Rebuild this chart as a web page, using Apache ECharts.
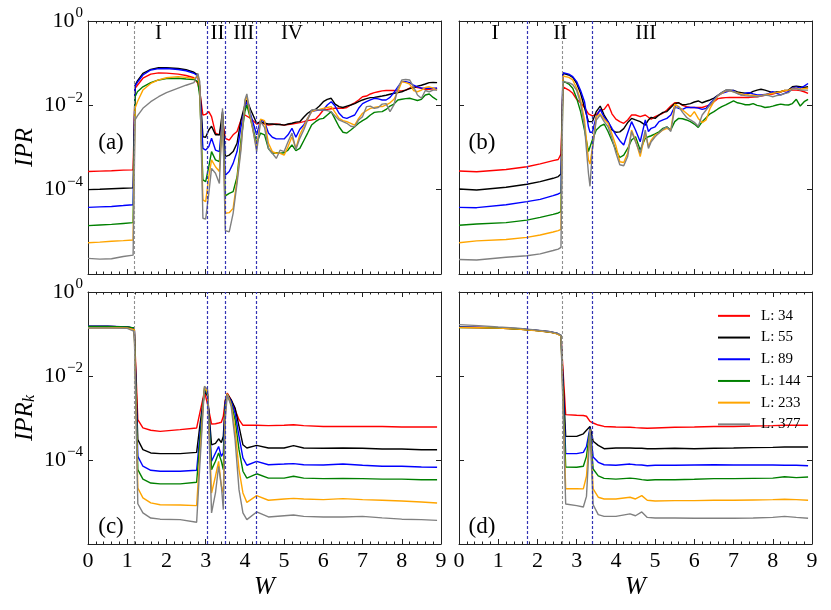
<!DOCTYPE html>
<html><head><meta charset="utf-8">
<script src="https://cdn.jsdelivr.net/npm/echarts/dist/echarts.min.js"></script>
<style>html,body{margin:0;padding:0;background:#fff}#c{width:831px;height:610px}</style>
</head><body><div id="c"></div>
<script>
// ---------- DATA ----------
const SIZES = ['L: 34','L: 55','L: 89','L: 144','L: 233','L: 377'];

// Panel (a): IPR, x-axis W
const W_A = [0,0.3,0.6,0.9,1.15,1.2,1.26,1.4,1.6,1.8,2.0,2.3,2.5,2.7,2.8,2.85,2.93,3.0,3.08,3.15,3.25,3.35,3.43,3.5,3.6,3.7,3.8,3.9,4.0,4.05,4.15,4.3,4.4,4.5,4.6,4.7,4.8,4.9,5.0,5.1,5.2,5.3,5.4,5.5,5.6,5.7,5.8,5.9,6.0,6.1,6.2,6.3,6.4,6.5,6.6,6.7,6.8,6.9,7.0,7.1,7.2,7.3,7.4,7.5,7.6,7.7,7.8,7.9,8.0,8.1,8.2,8.3,8.4,8.5,8.6,8.7,8.8,8.9];
const A_34 = [2.7e-4,2.75e-4,2.8e-4,2.9e-4,2.95e-4,
 2.55e-2,3.0e-2,4.4e-2,5.5e-2,5.9e-2,5.8e-2,5.5e-2,5.1e-2,4.5e-2,3.3e-2,2.1e-2,
 5.9e-3,6.1e-3,7.1e-3,5.4e-3,2.2e-3,2.0e-3,4.5e-3,1.65e-3,1.5e-3,2.0e-3,2.4e-3,4.5e-3,5.9e-3,6.5e-3,4.9e-3,3.6e-3,
 3.9e-3,3.6e-3,3.4e-3,3.5e-3,3.6e-3,3.5e-3,3.4e-3,3.5e-3,3.6e-3,3.75e-3,
 3.9e-3,4.1e-3,4.35e-3,4.5e-3,4.7e-3,5.9e-3,7.75e-3,8.0e-3,8.3e-3,8.5e-3,
 8.5e-3,8.5e-3,8.9e-3,1.02e-2,1.15e-2,1.34e-2,1.6e-2,1.66e-2,1.86e-2,2.0e-2,
 2.1e-2,2.2e-2,2.25e-2,2.25e-2,2.25e-2,2.2e-2,2.2e-2,2.3e-2,2.55e-2,2.75e-2,
 2.65e-2,2.55e-2,2.4e-2,2.4e-2,2.45e-2,2.55e-2];
const A_55 = [1.0e-4,1.02e-4,1.05e-4,1.08e-4,1.1e-4,
 3.0e-2,3.8e-2,5.75e-2,7.1e-2,7.8e-2,7.8e-2,7.5e-2,7.0e-2,6.1e-2,5.25e-2,2.75e-2,
 1.8e-3,1.75e-3,2.6e-3,3.2e-3,2.0e-3,2.0e-3,7.1e-3,6.1e-4,6.6e-4,8.0e-4,1.26e-3,4.5e-3,1.02e-2,1.34e-2,7.75e-3,3.75e-3,
 4.1e-3,3.75e-3,3.6e-3,3.6e-3,3.5e-3,3.5e-3,3.4e-3,3.6e-3,3.75e-3,4.0e-3,
 4.1e-3,5.2e-3,6.5e-3,7.5e-3,8.0e-3,9.6e-3,1.22e-2,1.39e-2,1.47e-2,1.07e-2,
 9.3e-3,8.9e-3,9.6e-3,1.02e-2,1.1e-2,1.22e-2,1.34e-2,1.44e-2,1.52e-2,1.54e-2,
 1.6e-2,1.66e-2,1.73e-2,1.83e-2,1.93e-2,2.0e-2,2.1e-2,2.3e-2,2.5e-2,2.6e-2,
 2.85e-2,3.0e-2,3.2e-2,3.45e-2,3.5e-2,3.45e-2];
const A_89 = [3.8e-5,3.9e-5,4.0e-5,4.2e-5,4.4e-5,
 2.85e-2,3.5e-2,5.25e-2,6.9e-2,7.4e-2,7.5e-2,7.1e-2,6.6e-2,5.75e-2,4.95e-2,2.3e-2,
 9.5e-4,8.7e-4,1.05e-3,1.65e-3,8.7e-4,8.0e-4,5.4e-3,2.2e-4,2.7e-4,4.2e-4,8.0e-4,3.1e-3,8.9e-3,1.22e-2,5.9e-3,2.0e-3,
 4.5e-3,4.1e-3,2.2e-3,1.75e-3,1.6e-3,1.6e-3,1.6e-3,2.0e-3,2.85e-3,1.75e-3,
 2.7e-3,3.4e-3,4.9e-3,7.1e-3,7.5e-3,7.75e-3,7.75e-3,1.02e-2,1.22e-2,9.6e-3,
 6.5e-3,5.2e-3,4.9e-3,5.4e-3,5.9e-3,8.5e-3,1.1e-2,1.22e-2,1.34e-2,1.47e-2,
 1.42e-2,1.34e-2,1.34e-2,1.54e-2,2.0e-2,2.75e-2,3.65e-2,3.65e-2,3.45e-2,3.0e-2,
 2.75e-2,2.55e-2,2.55e-2,2.55e-2,2.55e-2,2.55e-2];
const A_144 = [1.4e-5,1.45e-5,1.5e-5,1.58e-5,1.65e-5,
 1.6e-2,2.1e-2,2.75e-2,3.45e-2,4.0e-2,4.3e-2,4.4e-2,4.2e-2,4.1e-2,3.65e-2,1.6e-2,
 1.7e-4,1.55e-4,3.5e-4,8.0e-4,5.1e-4,4.6e-4,5.4e-3,7.1e-5,8.2e-5,9.0e-5,2.0e-4,1.5e-3,7.1e-3,1.02e-2,4.5e-3,1.26e-3,
 2.2e-3,2.0e-3,9.5e-4,7.3e-4,7.5e-4,7.3e-4,7.5e-4,8.7e-4,1.15e-3,8.4e-4,
 9.5e-4,1.45e-3,2.2e-3,3.4e-3,4.1e-3,4.7e-3,4.9e-3,5.9e-3,7.1e-3,4.7e-3,
 3.1e-3,2.3e-3,2.2e-3,2.6e-3,3.1e-3,3.75e-3,4.35e-3,4.9e-3,5.9e-3,6.8e-3,
 7.0e-3,7.1e-3,8.0e-3,9.6e-3,1.07e-2,1.34e-2,1.39e-2,1.44e-2,1.47e-2,1.39e-2,
 1.3e-2,1.39e-2,1.76e-2,1.86e-2,1.54e-2,1.34e-2];
const A_233 = [5.5e-6,5.7e-6,6.0e-6,6.2e-6,6.4e-6,
 8.5e-3,1.22e-2,2.3e-2,3.3e-2,4.0e-2,4.5e-2,4.8e-2,4.6e-2,4.3e-2,4.8e-2,2.75e-2,
 5.7e-5,5.2e-5,2.0e-4,5.1e-4,3.5e-4,2.7e-4,5.9e-3,2.75e-5,2.85e-5,3.6e-5,1.7e-4,1.05e-3,1.22e-2,1.66e-2,4.5e-3,9.5e-4,
 4.7e-3,4.35e-3,1.26e-3,8.0e-4,7.3e-4,7.3e-4,6.6e-4,1.05e-3,1.8e-3,9.5e-4,
 2.0e-3,3.1e-3,4.9e-3,7.1e-3,7.75e-3,8.0e-3,8.5e-3,8.9e-3,9.3e-3,6.8e-3,
 4.9e-3,4.35e-3,4.1e-3,3.75e-3,3.4e-3,4.9e-3,6.5e-3,7.5e-3,8.5e-3,8.9e-3,
 9.3e-3,9.3e-3,1.02e-2,1.15e-2,1.39e-2,2.1e-2,3.65e-2,3.45e-2,3.2e-2,2.25e-2,
 2.1e-2,2.3e-2,2.65e-2,2.75e-2,2.55e-2,2.3e-2];
const A_377 = [2.35e-6,2.25e-6,2.3e-6,2.6e-6,2.8e-6,
 4.5e-3,5.6e-3,8.5e-3,1.22e-2,1.6e-2,2.0e-2,2.55e-2,3.0e-2,3.45e-2,5.75e-2,3.65e-2,
 2.1e-5,2.0e-5,8.2e-5,3.2e-4,2.45e-4,1.4e-4,8.5e-3,1.07e-5,1.0e-5,2.75e-5,1.4e-4,8.7e-4,1.34e-2,1.86e-2,5.4e-3,8.0e-4,
 4.1e-3,3.0e-3,9.5e-4,7.3e-4,5.5e-4,8.7e-4,8.0e-4,1.37e-3,2.2e-3,9.0e-4,
 1.65e-3,2.6e-3,4.5e-3,7.75e-3,8.0e-3,7.75e-3,7.75e-3,7.5e-3,7.1e-3,5.6e-3,
 4.5e-3,4.1e-3,3.75e-3,3.2e-3,3.1e-3,4.5e-3,5.4e-3,9.3e-3,9.6e-3,8.5e-3,
 8.9e-3,1.07e-2,1.1e-2,7.1e-3,1.02e-2,2.55e-2,4.0e-2,4.1e-2,4.0e-2,2.75e-2,
 1.76e-2,1.47e-2,2.25e-2,2.1e-2,2.3e-2,2.3e-2];

// Panel (b): IPR
const W_B = [0,0.45,1.2,1.73,2.07,2.4,2.53,2.6,
 2.65,2.7,2.8,2.9,3.0,3.1,3.2,3.3,3.34,3.4,
 3.5,3.6,3.7,3.8,3.9,4.0,4.1,4.2,4.3,4.4,4.5,
 4.62,4.75,4.83,
 4.9,5.0,5.1,5.2,5.3,5.4,5.5,5.6,5.7,5.8,5.9,6.0,6.1,6.2,6.3,6.4,6.5,6.6,6.7,6.8,6.9,7.0,7.1,7.2,7.3,7.4,7.5,7.6,7.7,7.8,7.9,8.0,8.1,8.2,8.3,8.4,8.5,8.6,8.7,8.8,8.9];
const B_34 = [2.77e-4,2.67e-4,3.0e-4,3.5e-4,4.1e-4,4.9e-4,5.2e-4,7.0e-4,
 2.75e-2,2.65e-2,2.3e-2,1.93e-2,1.39e-2,1.15e-2,8.9e-3,6.3e-3,5.9e-3,5.6e-3,
 6.1e-3,7.5e-3,8.0e-3,1.07e-2,6.3e-3,4.7e-3,4.1e-3,3.75e-3,4.5e-3,5.9e-3,5.9e-3,
 5.4e-3,5.9e-3,5.2e-3,
 4.7e-3,5.4e-3,5.9e-3,6.5e-3,7.75e-3,9.6e-3,1.15e-2,1.15e-2,1.0e-2,9.3e-3,
 8.9e-3,8.9e-3,8.9e-3,8.9e-3,9.6e-3,1.02e-2,1.22e-2,1.44e-2,1.49e-2,1.52e-2,
 1.54e-2,1.54e-2,1.54e-2,1.54e-2,1.54e-2,1.54e-2,1.57e-2,1.6e-2,1.66e-2,1.73e-2,
 1.8e-2,1.86e-2,1.97e-2,2.1e-2,2.2e-2,2.25e-2,2.3e-2,2.3e-2,2.25e-2,2.1e-2,
 1.93e-2];
const B_55 = [1.04e-4,9.8e-5,1.14e-4,1.34e-4,1.55e-4,1.86e-4,2.04e-4,2.35e-4,
 5.75e-2,5.75e-2,5.25e-2,4.6e-2,3.3e-2,1.93e-2,8.9e-3,4.1e-3,3.9e-3,4.1e-3,
 7.1e-3,9.6e-3,5.9e-3,4.1e-3,2.6e-3,2.3e-3,2.35e-3,2.8e-3,3.9e-3,4.9e-3,4.5e-3,
 4.1e-3,3.4e-3,4.5e-3,
 5.2e-3,4.9e-3,5.9e-3,6.8e-3,7.1e-3,8.9e-3,1.1e-2,1.15e-2,1.03e-2,1.05e-2,
 1.1e-2,1.2e-2,1.27e-2,1.15e-2,1.25e-2,1.34e-2,1.49e-2,1.73e-2,2.0e-2,2.28e-2,
 2.3e-2,2.25e-2,2.07e-2,2.0e-2,1.93e-2,1.93e-2,2.15e-2,2.3e-2,2.4e-2,2.3e-2,
 2.15e-2,2.0e-2,2.07e-2,2.1e-2,2.25e-2,2.3e-2,2.75e-2,2.85e-2,2.75e-2,2.65e-2,
 2.75e-2];
const B_89 = [3.8e-5,3.74e-5,4.4e-5,5.2e-5,5.9e-5,7.2e-5,7.9e-5,8.5e-5,
 5.95e-2,5.95e-2,5.5e-2,4.8e-2,3.65e-2,2.25e-2,1.22e-2,3.1e-3,2.3e-3,2.3e-3,
 5.4e-3,8.0e-3,5.2e-3,4.1e-3,2.85e-3,2.0e-3,1.45e-3,1.15e-3,2.2e-3,4.1e-3,2.6e-3,
 1.37e-3,4.5e-3,2.4e-3,
 2.85e-3,3.1e-3,4.1e-3,4.5e-3,4.9e-3,5.9e-3,9.3e-3,8.5e-3,8.0e-3,8.9e-3,
 8.9e-3,8.9e-3,8.6e-3,8.0e-3,8.5e-3,1.1e-2,1.39e-2,1.7e-2,1.93e-2,2.07e-2,
 2.2e-2,2.25e-2,1.93e-2,1.76e-2,1.93e-2,2.0e-2,1.86e-2,1.76e-2,1.76e-2,1.8e-2,
 1.93e-2,2.1e-2,1.93e-2,1.76e-2,1.93e-2,2.1e-2,2.6e-2,2.75e-2,2.55e-2,2.85e-2,
 3.3e-2];
const B_144 = [1.43e-5,1.53e-5,1.65e-5,1.9e-5,2.2e-5,2.6e-5,2.8e-5,3.0e-5,
 3.8e-2,3.8e-2,3.2e-2,2.55e-2,1.47e-2,7.1e-3,2.6e-3,8.0e-4,7.3e-4,1.5e-3,
 2.6e-3,3.2e-3,3.6e-3,2.4e-3,1.45e-3,8.7e-4,5.8e-4,6.6e-4,9.5e-4,1.5e-3,1.8e-3,
 8.7e-4,1.65e-3,1.8e-3,
 1.9e-3,2.1e-3,2.35e-3,2.85e-3,3.1e-3,2.6e-3,4.1e-3,4.9e-3,4.8e-3,4.5e-3,
 4.1e-3,3.6e-3,3.0e-3,4.1e-3,5.1e-3,6.3e-3,7.1e-3,8.2e-3,9.3e-3,1.02e-2,
 1.15e-2,1.27e-2,1.15e-2,1.1e-2,1.03e-2,1.03e-2,1.1e-2,1.0e-2,9.6e-3,8.9e-3,
 9.1e-3,9.6e-3,1.02e-2,1.07e-2,1.03e-2,1.02e-2,1.1e-2,1.39e-2,9.6e-3,1.22e-2,
 1.39e-2];
const B_233 = [5.5e-6,6.1e-6,6.6e-6,7.4e-6,8.4e-6,9.9e-6,1.07e-5,1.15e-5,
 4.95e-2,4.95e-2,4.6e-2,4.0e-2,2.55e-2,1.34e-2,4.5e-3,5.1e-4,4.05e-4,9.5e-4,
 5.4e-3,6.3e-3,4.7e-3,3.75e-3,2.1e-3,1.1e-3,4.6e-4,4.4e-4,7.3e-4,2.6e-3,1.5e-3,
 6.1e-4,2.2e-3,1.05e-3,
 1.5e-3,2.0e-3,2.2e-3,2.6e-3,2.85e-3,2.6e-3,1.07e-2,9.3e-3,7.75e-3,6.5e-3,
 5.4e-3,7.1e-3,4.9e-3,3.9e-3,4.5e-3,8.5e-3,1.22e-2,1.66e-2,1.93e-2,2.2e-2,
 2.2e-2,2.1e-2,1.97e-2,1.86e-2,1.8e-2,1.76e-2,1.73e-2,1.66e-2,1.7e-2,1.8e-2,
 1.86e-2,1.93e-2,2.0e-2,2.1e-2,2.25e-2,2.3e-2,2.5e-2,2.55e-2,2.4e-2,2.5e-2,
 2.55e-2];
const B_377 = [2.2e-6,2.15e-6,2.5e-6,2.7e-6,3.0e-6,3.6e-6,3.9e-6,4.3e-6,
 3.65e-2,3.65e-2,3.45e-2,3.1e-2,2.25e-2,1.1e-2,3.1e-3,2.45e-4,1.2e-4,8.7e-4,
 4.5e-3,5.9e-3,4.1e-3,3.1e-3,1.65e-3,7.5e-4,3.9e-4,3.7e-4,6.1e-4,2.4e-3,1.37e-3,
 7.3e-4,2.6e-3,9.5e-4,
 1.37e-3,1.8e-3,2.2e-3,2.7e-3,3.1e-3,2.4e-3,8.5e-3,9.3e-3,6.8e-3,5.2e-3,
 4.5e-3,3.95e-3,3.2e-3,5.9e-3,7.75e-3,1.02e-2,1.34e-2,1.7e-2,2.0e-2,2.28e-2,
 2.25e-2,2.1e-2,1.9e-2,1.76e-2,1.7e-2,1.66e-2,1.63e-2,1.6e-2,1.66e-2,1.76e-2,
 1.7e-2,1.6e-2,1.7e-2,1.76e-2,1.9e-2,2.0e-2,2.45e-2,2.5e-2,2.3e-2,2.3e-2,
 2.3e-2];

// Panel (c): IPR_k
const W_C = [0,0.5,1.0,1.18,1.27,1.4,1.6,1.84,2.35,2.77,2.85,2.97,3.05,3.15,3.25,3.33,3.4,3.45,3.5,3.55,3.65,3.75,3.85,3.95,4.05,4.3,4.6,5.0,5.24,5.5,6.0,6.5,7.0,7.5,8.0,8.5,8.9];
const C_34 = [0.152,0.152,0.147,0.136, 9.1e-4,5.8e-4,5.1e-4,4.8e-4,5.3e-4,5.8e-4, 1.3e-3,4.3e-3,2.1e-3,7.2e-4,7.3e-4,7.6e-4,7.9e-4,1.1e-3,2.7e-3,3.9e-3, 2.7e-3,1.58e-3,9.1e-4,6.7e-4,6.7e-4, 6.7e-4,6.6e-4,6.7e-4,6.9e-4,6.6e-4, 6.3e-4,6.3e-4,6.3e-4,6.25e-4,6.1e-4,6.1e-4,6.1e-4];
const C_55 = [0.152,0.152,0.147,0.136, 3.05e-4,1.76e-4,1.47e-4,1.42e-4,1.42e-4,1.52e-4, 6.3e-4,4.3e-3,3.3e-3,2.3e-4,2.5e-4,3.2e-4,2.6e-4,3.66e-4,2.5e-3,3.7e-3, 2.7e-3,1.73e-3,6.3e-4,2.3e-4,1.93e-4, 2.23e-4,1.93e-4,1.93e-4,2.2e-4,1.93e-4, 1.9e-4,1.93e-4,1.9e-4,1.83e-4,1.83e-4,1.76e-4,1.76e-4];
const C_89 = [0.153,0.153,0.148,0.137, 1.22e-4,7.1e-5,5.7e-5,5.4e-5,5.4e-5,5.7e-5, 3.66e-4,4.7e-3,3.6e-3,9.3e-5,1.47e-4,2.1e-4,1.22e-4,1.47e-4,2.3e-3,3.6e-3, 2.5e-3,1.3e-3,3.66e-4,1.12e-4,7.5e-5, 9.3e-5,7.7e-5,8.0e-5,8.2e-5,7.7e-5, 7.6e-5,8.0e-5,7.5e-5,7.1e-5,7.1e-5,6.8e-5,6.7e-5];
const C_144 = [0.152,0.152,0.148,0.14, 5.9e-5,3.5e-5,2.83e-5,2.7e-5,2.7e-5,2.95e-5, 2.5e-4,5.2e-3,3.6e-3,5.9e-5,9.3e-5,1.47e-4,9.3e-5,5.9e-5,1.9e-3,3.6e-3, 2.2e-3,9.1e-4,1.76e-4,5.4e-5,3.7e-5, 4.7e-5,3.7e-5,3.7e-5,4.1e-5,3.7e-5, 3.6e-5,3.66e-5,3.6e-5,3.5e-5,3.5e-5,3.4e-5,3.4e-5];
const C_233 = [0.139,0.141,0.139,0.127, 2.15e-5,1.25e-5,9.5e-6,8.6e-6,8.5e-6,8.2e-6, 1.22e-4,5.5e-3,3.9e-3,1.64e-5,4.1e-5,9.3e-5,2.4e-5,1.64e-5,1.3e-3,3.8e-3, 2.1e-3,5.3e-4,5.9e-5,1.64e-5,9.8e-6, 1.42e-5,1.1e-5,1.18e-5,1.22e-5,1.18e-5, 1.14e-5,1.2e-5,1.14e-5,1.1e-5,1.06e-5,1.0e-5,9.5e-6];
const C_377 = [0.139,0.139,0.136,0.116, 9.1e-6,5.5e-6,4.15e-6,3.9e-6,3.8e-6,3.3e-6, 7.1e-5,5.7e-3,4.7e-3,5.5e-6,1.64e-5,7.1e-5,2.4e-5,6.6e-6,9.1e-4,3.6e-3, 1.9e-3,3.05e-4,1.97e-5,5.5e-6,3.8e-6, 5.8e-6,4.4e-6,4.7e-6,4.9e-6,4.55e-6, 4.4e-6,4.4e-6,4.55e-6,4.2e-6,3.9e-6,3.8e-6,3.65e-6];

// Panel (d): IPR_k
const W_D = [0,0.5,1.0,1.5,2.0,2.3,2.5,2.6,2.72,3.0,3.17,3.25,3.34,3.42,3.55,3.7,4.0,4.36,4.5,4.66,4.8,5.0,5.5,6.0,6.5,7.0,7.5,8.0,8.3,8.6,8.9];
const D_34 = [0.144,0.143,0.139,0.132,0.12,0.112,0.102,0.091, 1.2e-3,1.16e-3,1.15e-3,1.1e-3,8.3e-4,7.6e-4,6.8e-4,6.3e-4, 6.1e-4,6.0e-4,5.9e-4,5.8e-4,5.7e-4,5.8e-4, 6.0e-4,6.1e-4,6.25e-4,6.3e-4,6.45e-4,6.6e-4,6.7e-4,6.7e-4,6.7e-4];
const D_55 = [0.145,0.143,0.14,0.133,0.121,0.113,0.103,0.092, 3.66e-4,3.66e-4,4.2e-4,5.1e-4,6.3e-4,2.8e-4,2.23e-4,1.86e-4, 1.93e-4,1.93e-4,1.9e-4,1.9e-4,1.86e-4,1.86e-4, 1.9e-4,1.86e-4,1.9e-4,1.93e-4,1.97e-4,2.0e-4,2.04e-4,2.04e-4,2.04e-4];
const D_89 = [0.146,0.144,0.141,0.134,0.122,0.114,0.104,0.093, 1.42e-4,1.42e-4,1.52e-4,2.1e-4,5.8e-4,1.18e-4,8.8e-5,7.7e-5, 7.5e-5,8.0e-5,7.7e-5,7.6e-5,7.3e-5,7.5e-5, 7.5e-5,7.6e-5,7.7e-5,7.6e-5,7.6e-5,7.6e-5,7.5e-5,7.5e-5,7.3e-5];
const D_144 = [0.143,0.142,0.139,0.132,0.12,0.112,0.102,0.091, 6.8e-5,6.7e-5,7.1e-5,1.22e-4,5.5e-4,6.1e-5,4.2e-5,3.66e-5, 3.5e-5,3.7e-5,3.6e-5,3.4e-5,3.3e-5,3.4e-5, 3.4e-5,3.47e-5,3.6e-5,3.6e-5,3.66e-5,3.7e-5,4.0e-5,3.8e-5,3.95e-5];
const D_233 = [0.142,0.141,0.138,0.131,0.119,0.111,0.101,0.09, 2.07e-5,2.07e-5,2.05e-5,4.1e-5,5.3e-4,2.05e-5,1.3e-5,1.18e-5, 1.18e-5,1.3e-5,1.18e-5,1.42e-5,1.1e-5,1.06e-5, 1.08e-5,1.08e-5,1.1e-5,1.1e-5,1.12e-5,1.14e-5,1.16e-5,1.14e-5,1.1e-5];
const D_377 = [0.167,0.158,0.147,0.138,0.124,0.115,0.105,0.094, 8.95e-6,8.2e-6,7.6e-6,1.36e-5,5.3e-4,8.6e-6,5.0e-6,4.55e-6, 4.55e-6,5.2e-6,4.7e-6,5.8e-6,4.3e-6,4.15e-6, 4.15e-6,4.1e-6,4.1e-6,4.1e-6,4.15e-6,4.3e-6,4.55e-6,4.3e-6,4.1e-6];

// Phase boundaries (W)
const BOUND_AC_GRAY = [1.18];
const BOUND_AC_BLUE = [3.04, 3.50, 4.30];
const BOUND_BD_GRAY = [2.64];
const BOUND_BD_BLUE = [1.73, 3.40];
const REGIONS_A = [['I',1.8],['II',3.3],['III',3.97],['IV',5.2]];
const REGIONS_B = [['I',0.92],['II',2.58],['III',4.76]];
const X_TICKS = [0,1,2,3,4,5,6,7,8,9];

// ---------- CHART ----------
const FONT = '"Liberation Serif", "DejaVu Serif", serif';
const COLORS = ['#ff0000','#000000','#0000ff','#008000','#ffa500','#808080'];
const GRAYC = '#909090', BLUEC = '#3434b4';
const PANELS = [
  {W: W_A, Y: [A_34,A_55,A_89,A_144,A_233,A_377], gray: BOUND_AC_GRAY, blue: BOUND_AC_BLUE},
  {W: W_B, Y: [B_34,B_55,B_89,B_144,B_233,B_377], gray: BOUND_BD_GRAY, blue: BOUND_BD_BLUE},
  {W: W_C, Y: [C_34,C_55,C_89,C_144,C_233,C_377], gray: BOUND_AC_GRAY, blue: BOUND_AC_BLUE},
  {W: W_D, Y: [D_34,D_55,D_89,D_144,D_233,D_377], gray: BOUND_BD_GRAY, blue: BOUND_BD_BLUE}
];
const GRIDS = [
  {left:88, top:21, width:353, height:253},
  {left:459, top:21, width:353, height:253},
  {left:88, top:292, width:353, height:252},
  {left:459, top:292, width:353, height:252}
];

const axisLine = {show:true, onZero:false, lineStyle:{color:'#222', width:1}};
const tick = {show:true, inside:true, length:5, lineStyle:{color:'#222', width:1}};
const xAxes = [], yAxes = [];
for (let g = 0; g < 4; g++) {
  ['bottom','top'].forEach(pos => {
    xAxes.push({
      type:'value', gridIndex:g, position:pos, min:X_TICKS[0], max:X_TICKS[X_TICKS.length-1], interval:1,
      axisLine, axisTick:tick,
      minorTick:{show:true, splitNumber:5, length:2.5, lineStyle:{color:'#222', width:1}},
      splitLine:{show:false}, minorSplitLine:{show:false},
      axisLabel:{show: pos==='bottom' && g>=2, fontFamily:FONT, fontSize:22, color:'#000', margin:6},
      name: (pos==='bottom' && g>=2) ? 'W' : '', nameLocation:'middle', nameGap:31,
      nameTextStyle:{fontFamily:FONT, fontStyle:'italic', fontSize:25, color:'#000'}
    });
  });
  ['left','right'].forEach(pos => {
    const showLab = pos==='left' && g%2===0;
    yAxes.push({
      type:'log', logBase:10, gridIndex:g, position:pos, min:1e-6, max:1, interval:2,
      axisLine, axisTick:tick, minorTick:{show:false},
      splitLine:{show:false},
      axisLabel:{
        show: showLab, margin:5,
        formatter: v => {
          const e = Math.round(Math.log10(v));
          if (e <= -6) return '';
          return '{b|10}{s|' + (e === 0 ? '0' : '\u2212' + (-e)) + '}';
        },
        rich:{
          b:{fontFamily:FONT, fontSize:22, color:'#000'},
          s:{fontFamily:FONT, fontSize:15, color:'#000', padding:[0,0,15,1]}
        }
      },
      name: showLab ? (g===0 ? 'IPR' : '{i|IPR}{k|k}') : '',
      nameLocation:'middle', nameRotate:90, nameGap:50,
      nameTextStyle:{fontFamily:FONT, fontStyle:'italic', fontSize:25, color:'#000',
        rich:{i:{fontFamily:FONT, fontStyle:'italic', fontSize:25, color:'#000'},
              k:{fontFamily:FONT, fontStyle:'italic', fontSize:16, color:'#000', padding:[10,0,0,0]}}}
    });
  });
}

const series = [];
PANELS.forEach((p, g) => {
  p.Y.forEach((ys, i) => {
    const s = {
      type:'line', name:SIZES[i], xAxisIndex:2*g, yAxisIndex:2*g,
      data: p.W.map((w, j) => [w, ys[j]]),
      showSymbol:false, symbol:'none', smooth:false,
      lineStyle:{color:COLORS[i], width:1.4}, itemStyle:{color:COLORS[i]},
      emphasis:{disabled:true}, silent:true, animation:false
    };
    if (i === 0) {
      s.markLine = {
        silent:true, symbol:['none','none'], label:{show:false}, animation:false,
        data: p.gray.map(w => ({xAxis:w, lineStyle:{color:GRAYC, type:[3,2], width:1.1}}))
          .concat(p.blue.map(w => ({xAxis:w, lineStyle:{color:BLUEC, type:[3,2], width:1.2}})))
      };
    }
    series.push(s);
  });
});

const txt = (x, y, t, size) => ({type:'text', x, y, silent:true,
  style:{text:t, font: size + 'px ' + FONT, fill:'#000', align:'center', verticalAlign:'middle',
         textAlign:'center', textVerticalAlign:'middle'}});

const chart = echarts.init(document.getElementById('c'), null, {renderer:'canvas'});
chart.setOption({
  animation:false,
  backgroundColor:'#fff',
  grid: GRIDS,
  xAxis: xAxes,
  yAxis: yAxes,
  series,
  legend:{
    data: SIZES, orient:'vertical', left:713, top:300, itemWidth:32, itemHeight:2, itemGap:0,
    icon:'rect', selectedMode:false,
    textStyle:{fontFamily:FONT, fontSize:15, color:'#000', lineHeight:21.7, padding:[0,0,0,6]}
  }
});

// panel and region labels, placed through the grids' own coordinate conversion
const labels = [];
const panelTags = ['(a)','(b)','(c)','(d)'];
panelTags.forEach((t, g) => {
  const gr = GRIDS[g];
  labels.push(txt(gr.left + 23, g < 2 ? 143 : 527, t, 23));
});
const toX = (g, w) => chart.convertToPixel({xAxisIndex:2*g}, w);
REGIONS_A.forEach(([t, w]) => labels.push(txt(toX(0, w), 33, t, 21)));
REGIONS_B.forEach(([t, w]) => labels.push(txt(toX(1, w), 33, t, 21)));
chart.setOption({graphic: labels});
</script>
</body></html>
